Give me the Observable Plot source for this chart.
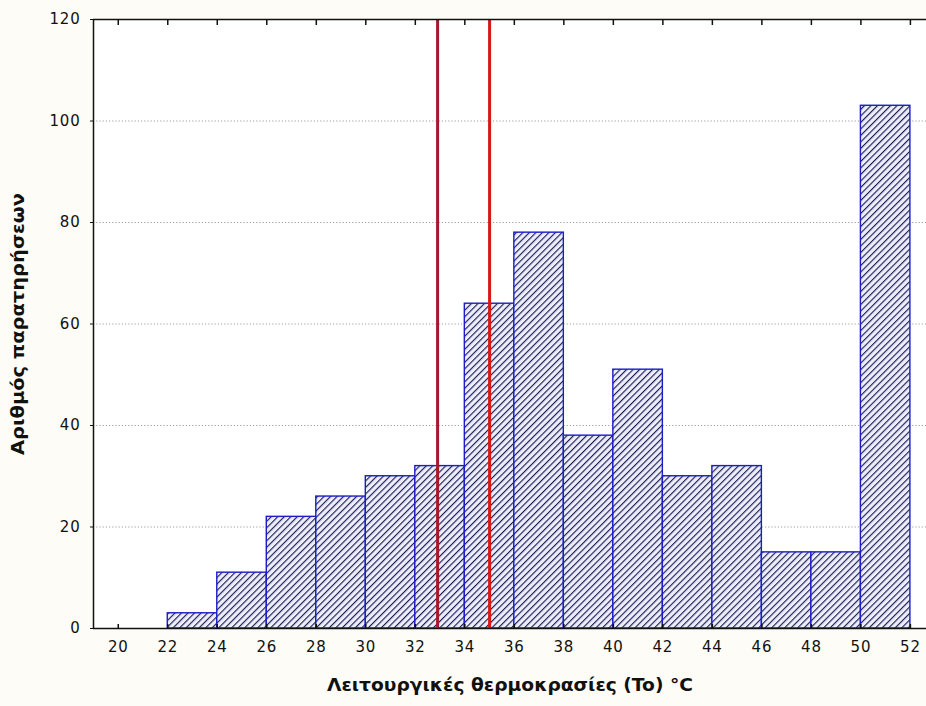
<!DOCTYPE html>
<html>
<head>
<meta charset="utf-8">
<script src="https://cdn.jsdelivr.net/npm/d3@7"></script>
<script src="https://cdn.jsdelivr.net/npm/@observablehq/plot@0.6"></script>
<style>
  html, body { margin: 0; padding: 0; background: #fdfcf6; }
  #chart svg { display: block; }
</style>
</head>
<body>
<div id="chart"></div>
<script>
const binStart = [20, 22, 24, 26, 28, 30, 32, 34, 36, 38, 40, 42, 44, 46, 48, 50];
const binWidth = 2;
const counts = [0, 3, 11, 22, 26, 30, 32, 64, 78, 38, 51, 30, 32, 15, 15, 103];
const xTicks = [20, 22, 24, 26, 28, 30, 32, 34, 36, 38, 40, 42, 44, 46, 48, 50, 52];
const yTicks = [0, 20, 40, 60, 80, 100, 120];
const limitLines = [32.9, 35];
const xTitle = "Λειτουργικές θερμοκρασίες (To) °C";
const yTitle = "Αριθμός παρατηρήσεων";

const bins = binStart.map((s, i) => ({x1: s, x2: s + binWidth, y: counts[i]})).filter(d => d.y > 0);

const tickFont = "'DejaVu Sans', Verdana, sans-serif";

const plot = Plot.plot({
  width: 926,
  height: 706,
  marginLeft: 93,
  marginRight: 0,
  marginTop: 19,
  marginBottom: 78,
  style: {background: "transparent", fontFamily: tickFont, fontSize: "15px", color: "#111"},
  x: {domain: [19, 52.65]},
  y: {domain: [0, 120]},
  marks: [
    Plot.frame({fill: "white", stroke: null}),
    Plot.gridY(yTicks.filter(v => v > 0 && v < 120), {stroke: "#a0a0a0", strokeOpacity: 1, strokeDasharray: "1.2,2"}),
    Plot.rectY(bins, {x1: "x1", x2: "x2", y: "y", fill: "url(#hatch)", stroke: "#1c1cc8", strokeWidth: 1.4}),
    Plot.ruleX([limitLines[0]], {stroke: "#a8182c", strokeWidth: 3}),
    Plot.ruleX([limitLines[1]], {stroke: "#d81818", strokeWidth: 3}),
    Plot.ruleY([0], {stroke: "#111", strokeWidth: 1.5}),
    Plot.ruleY([120], {stroke: "#111", strokeWidth: 1.5}),
    Plot.ruleX([19], {stroke: "#111", strokeWidth: 1.5}),
    Plot.axisX(xTicks, {anchor: "bottom", tickSize: 0, tickPadding: 13, label: null, fontSize: 15, className: "ticklab"}),
    Plot.axisX(xTicks, {anchor: "bottom", tickSize: -4, tickFormat: () => "", label: null, strokeWidth: 1.5}),
    Plot.axisX(xTicks, {anchor: "top", tickSize: -5, tickFormat: () => "", label: null, strokeWidth: 1.5}),
    Plot.axisY(yTicks, {anchor: "left", tickSize: 3, tickPadding: 10, label: null, fontSize: 15, className: "ticklab"}),
    Plot.text([xTitle], {frameAnchor: "bottom", dy: 62, fontWeight: "bold", fontSize: 17, fill: "#111", fontFamily: "'DejaVu Sans', sans-serif", className: "xtitle"}),
    Plot.text([yTitle], {frameAnchor: "left", dx: -75, rotate: -90, textAnchor: "middle", fontWeight: "bold", fontSize: 17, fill: "#111", fontFamily: "'DejaVu Sans', sans-serif", className: "ytitle"})
  ]
});

const defs = d3.create("svg:defs");
const pat = defs.append("pattern")
  .attr("id", "hatch")
  .attr("patternUnits", "userSpaceOnUse")
  .attr("width", 4.6)
  .attr("height", 4.6)
  .attr("patternTransform", "rotate(45)");
pat.append("rect").attr("width", 4.6).attr("height", 4.6).attr("fill", "#eceefa");
pat.append("line").attr("x1", 0).attr("y1", 0).attr("x2", 0).attr("y2", 4.6)
  .attr("stroke", "#1d1d55").attr("stroke-width", 2.3);
plot.insertBefore(defs.node(), plot.firstChild);

// widen titles to the reference's wide lettering
d3.select(plot).selectAll(".xtitle text").attr("textLength", 366).attr("lengthAdjust", "spacingAndGlyphs");
d3.select(plot).selectAll(".ytitle text").attr("textLength", 262).attr("lengthAdjust", "spacingAndGlyphs");
d3.select(plot).selectAll(".ticklab text").style("letter-spacing", "0.8px");

document.getElementById("chart").appendChild(plot);
</script>
</body>
</html>
